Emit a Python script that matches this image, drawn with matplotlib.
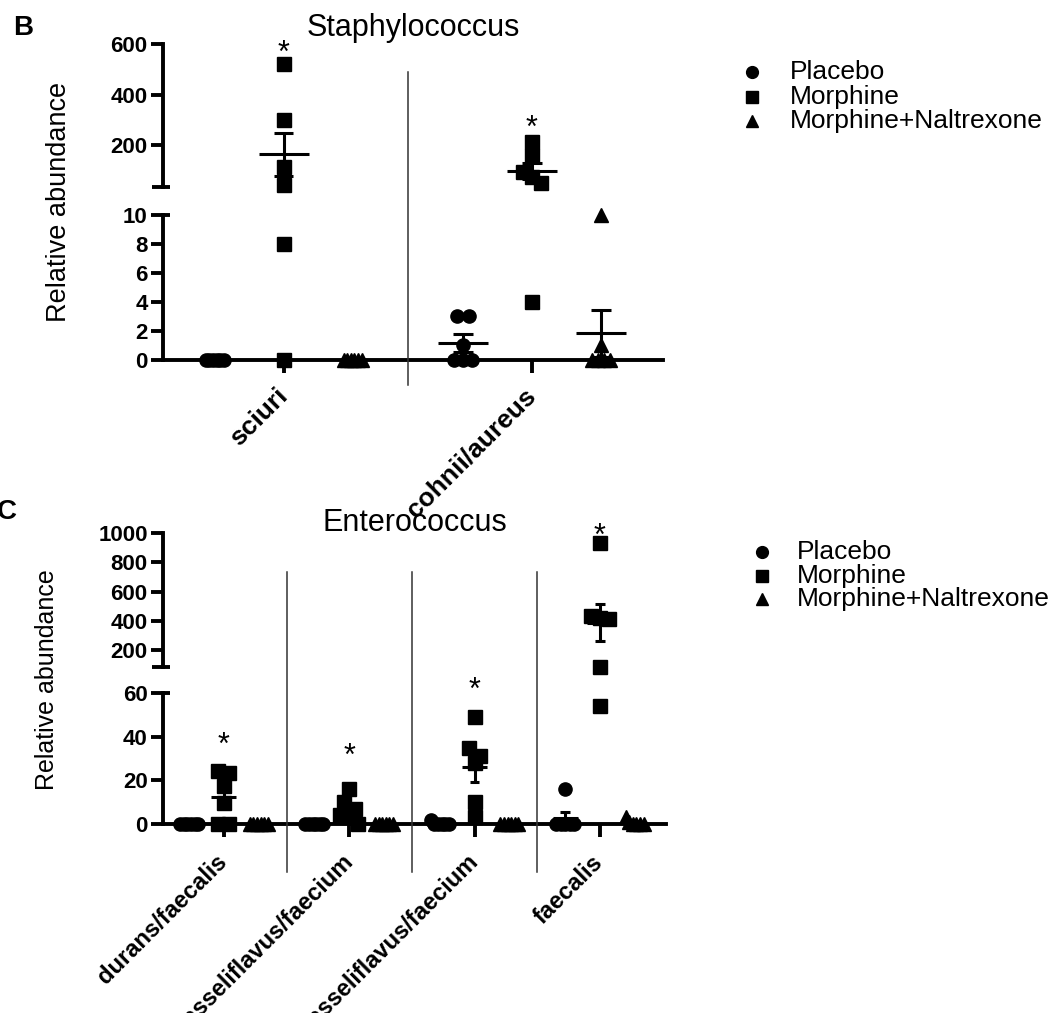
import numpy as np
import matplotlib.pyplot as plt
from matplotlib.lines import Line2D
from matplotlib.transforms import blended_transform_factory

plt.rcParams['font.family'] = ['Liberation Sans', 'DejaVu Sans']

W, H = 1052, 1013

series_names = ["Placebo", "Morphine", "Morphine+Naltrexone"]
series_markers = ["o", "s", "^"]

# panel B - Staphylococcus
staph_groups = ["sciuri", "cohnii/aureus"]
staph_placebo = [[0, 0, 0, 0, 0, 0], [3, 3, 1, 0, 0, 0]]
staph_morphine = [[520, 300, 115, 45, 8, 0], [215, 160, 95, 75, 50, 4]]
staph_naltrexone = [[0, 0, 0, 0, 0, 0], [10, 1, 0, 0, 0, 0]]
staph_star = [588, 291]

# panel C - Enterococcus
entero_groups = ["durans/faecalis", "casseliflavus/faecium",
                 "casseliflavus/faecium", "faecalis"]
entero_placebo = [[0, 0, 0, 0, 0, 0], [0, 0, 0, 0, 0, 0],
                  [2, 0, 0, 0, 0, 0], [16, 0, 0, 0, 0, 0]]
entero_morphine = [[24.5, 23.5, 17.5, 9.5, 0, 0], [16, 10, 7, 4, 3, 0],
                   [49, 35, 31, 28, 10, 3], [930, 430, 420, 410, 85, 54]]
entero_naltrexone = [[0, 0, 0, 0, 0, 0], [0, 0, 0, 0, 0, 0],
                     [0, 0, 0, 0, 0, 0], [3, 1, 0, 0, 0, 0]]
entero_star = [39, 34, 64, 1020]

fig = plt.figure(figsize=(W / 100, H / 100), dpi=100)
fig.patch.set_facecolor('white')

LW = 2.8
MS = 9.5


def spread(vals, ypx, px_x, marker_px=13):
    # horizontal spread of overlapping points (like a column scatter)
    order = np.argsort(vals)[::-1]
    dx = np.zeros(len(vals))
    clusters = []
    for i in order:
        py = ypx(vals[i])
        if clusters and abs(clusters[-1][0] - py) < marker_px:
            clusters[-1][1].append(i)
        else:
            clusters.append([py, [i]])
    for py, idx in clusters:
        n = len(idx)
        if n < 2:
            continue
        step = min(marker_px * 0.85, 18 / (n - 1))
        for k, i in enumerate(idx):
            dx[i] = (k - (n - 1) / 2) * step / px_x
    return dx


def draw_panel(groups, series, stars, left, right, up_top, up_bot, lo_top, lo_bot,
               up_lim, lo_lim, up_ticks, lo_ticks, title, title_y, sep_y,
               xlab_size, xlab_pad):
    ax_up = fig.add_axes([left / W, 1 - up_bot / H, (right - left) / W, (up_bot - up_top) / H])
    ax_lo = fig.add_axes([left / W, 1 - lo_bot / H, (right - left) / W, (lo_bot - lo_top) / H])
    centers = np.arange(len(groups)) * 3.6
    xlim = (-1.75, centers[-1] + 1.9)
    px_x = (right - left) / (xlim[1] - xlim[0])
    lo_scale = (lo_bot - lo_top) / (lo_lim[1] - lo_lim[0])
    up_scale = (up_bot - up_top) / (up_lim[1] - up_lim[0])

    def ypx(v):
        if v <= lo_lim[1] * 1.05:
            return v * lo_scale
        return (lo_bot - up_bot) + (v - up_lim[0]) * up_scale

    for ax in (ax_up, ax_lo):
        ax.set_xlim(xlim)
        ax.spines['top'].set_visible(False)
        ax.spines['right'].set_visible(False)
        ax.spines['left'].set_linewidth(LW)
        ax.spines['bottom'].set_linewidth(LW)
        ax.tick_params(axis='y', direction='out', length=9, width=LW, labelsize=16, pad=2)
        ax.patch.set_visible(False)
    ax_up.spines['bottom'].set_visible(False)
    ax_up.set_xticks([])
    ax_up.set_ylim(up_lim)
    ax_lo.set_ylim(lo_lim)
    ax_up.set_yticks(up_ticks)
    ax_up.set_yticklabels([str(t) for t in up_ticks], fontweight='bold')
    ax_lo.set_yticks(lo_ticks)
    ax_lo.set_yticklabels([str(t) for t in lo_ticks], fontweight='bold')
    ax_lo.set_xticks(centers)
    ax_lo.set_xticklabels(groups, rotation=45, ha='right', va='center',
                          rotation_mode='anchor', fontweight='bold', fontsize=xlab_size)
    ax_lo.tick_params(axis='x', direction='out', length=9, width=LW, pad=xlab_pad)

    # break caps
    tr_lo = blended_transform_factory(ax_lo.transAxes, ax_lo.transData)
    tr_up = blended_transform_factory(ax_up.transAxes, ax_up.transData)
    w = right - left
    ax_lo.plot([0, 7 / w], [lo_lim[1]] * 2, transform=tr_lo, color='black', lw=LW,
               clip_on=False, solid_capstyle='butt')
    ax_up.plot([-11 / w, 7 / w], [up_lim[0]] * 2, transform=tr_up, color='black', lw=LW,
               clip_on=False, solid_capstyle='butt')

    for gi, c in enumerate(centers):
        for si, data in enumerate(series):
            vals = np.array(data[gi], dtype=float)
            x0 = c + (si - 1)
            xs = x0 + spread(vals, ypx, px_x)
            low = vals <= lo_lim[1] * 1.05
            mk = series_markers[si]
            ms = MS + (0.8 if mk == '^' else 0)
            ax_lo.plot(xs[low], vals[low], ls='none', marker=mk, ms=ms, color='black',
                       clip_on=False, zorder=3)
            ax_up.plot(xs[~low], vals[~low], ls='none', marker=mk, ms=ms, color='black',
                       clip_on=False, zorder=3)
            m = vals.mean()
            sem = vals.std(ddof=1) / np.sqrt(len(vals))
            for ax in (ax_lo, ax_up):
                ax.hlines(m, x0 - 0.36, x0 + 0.36, color='black', lw=2.2, zorder=4)
                if sem > 0:
                    ax.vlines(x0, m - sem, m + sem, color='black', lw=2.2, zorder=4)
                    ax.hlines([m - sem, m + sem], x0 - 0.14, x0 + 0.14, color='black',
                              lw=2.2, zorder=4)
        top = max(series[1][gi])
        ax_s = ax_up if top > lo_lim[1] * 1.05 else ax_lo
        ax_s.annotate('*', (c, stars[gi]), xytext=(0, -5), textcoords='offset points',
                      ha='center', va='center', fontsize=22, annotation_clip=False)

    # group separators
    tr_sep = blended_transform_factory(ax_lo.transData, fig.transFigure)
    for xs in (centers[:-1] + centers[1:]) / 2:
        fig.add_artist(Line2D([xs, xs], [1 - sep_y[0] / H, 1 - sep_y[1] / H],
                              transform=tr_sep, color='#333333', lw=1.1))

    fig.text((left + right) / 2 / W, 1 - title_y / H, title, ha='center', va='baseline',
             fontsize=22)
    return ax_up, ax_lo


def draw_legend(mx, tx, ys):
    for name, mk, y in zip(series_names, series_markers, ys):
        fig.add_artist(Line2D([mx / W], [1 - y / H], transform=fig.transFigure, ls='none',
                              marker=mk, ms=8.5 if mk != '^' else 8, color='black'))
        fig.text(tx / W, 1 - y / H, name, ha='left', va='center', fontsize=19)


draw_panel(staph_groups, [staph_placebo, staph_morphine, staph_naltrexone], staph_star,
           163, 663, 44, 187, 215, 360, (36, 600), (0, 10), [200, 400, 600],
           [0, 2, 4, 6, 8, 10], "Staphylococcus", 36, (72, 385), 19, 14)
draw_panel(entero_groups, [entero_placebo, entero_morphine, entero_naltrexone], entero_star,
           163, 666, 533, 667, 693, 824, (84, 1000), (0, 60),
           [200, 400, 600, 800, 1000], [0, 20, 40, 60], "Enterococcus", 531, (572, 872),
           17, 16)

fig.text(59 / W, 1 - 202 / H, "Relative abundance", rotation=90, ha='center', va='center',
         fontsize=19.5)
fig.text(47 / W, 1 - 680 / H, "Relative abundance", rotation=90, ha='center', va='center',
         fontsize=18)

draw_legend(752, 790, [72, 97, 121])
draw_legend(762, 797, [552, 576, 599])

fig.text(23 / W, 1 - 28 / H, "B", fontweight='bold', fontsize=20, ha='center', va='center')
fig.text(7 / W, 1 - 512 / H, "C", fontweight='bold', fontsize=20, ha='center', va='center')

fig.savefig("out.png", dpi=100, facecolor='white')
